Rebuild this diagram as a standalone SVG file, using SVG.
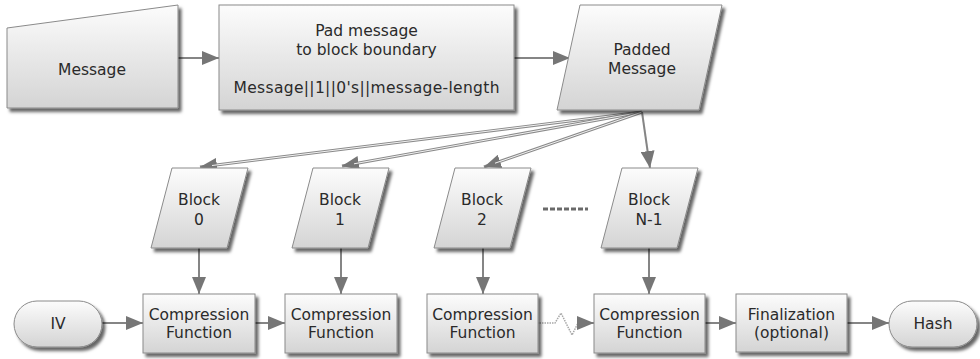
<svg xmlns="http://www.w3.org/2000/svg" width="980" height="359" viewBox="0 0 980 359">
<defs>
<linearGradient id="g" x1="0" y1="0" x2="0" y2="1">
<stop offset="0" stop-color="#fcfcfc"/>
<stop offset="1" stop-color="#d4d4d4"/>
</linearGradient>
<filter id="sh" x="-10%" y="-10%" width="130%" height="130%">
<feDropShadow dx="3" dy="3.5" stdDeviation="1.8" flood-color="#000" flood-opacity="0.6"/>
</filter>
<marker id="ah" markerUnits="userSpaceOnUse" markerWidth="18" markerHeight="14" refX="17" refY="7" orient="auto">
<path d="M0,0 L17,7 L0,14 z" fill="#767676"/>
</marker>
<style>
.n{fill:url(#g);stroke:#8a8a8a;stroke-width:1;filter:url(#sh)}
.t{font-family:"DejaVu Sans","Verdana",sans-serif;font-size:15.5px;fill:#2a2a2a;text-anchor:middle;dominant-baseline:central}
.c{fill:none;stroke:#858585;stroke-width:2}
.d1{fill:none;stroke:#8a8a8a;stroke-width:3}
.d2{fill:none;stroke:#f2f2f2;stroke-width:1}
.z{fill:none;stroke:#a8a8a8;stroke-width:1.5;stroke-dasharray:1.5 1}
.dash{fill:none;stroke:#6a6a6a;stroke-width:3;stroke-dasharray:5 2}
</style>
</defs>

<g id="connectors">
<line class="c" x1="178" y1="58" x2="219" y2="58" marker-end="url(#ah)"/>
<line class="c" x1="514" y1="58" x2="570" y2="58" marker-end="url(#ah)"/>
<line class="d1" x1="642" y1="112" x2="200" y2="167" marker-end="url(#ah)"/>
<line class="d2" x1="642" y1="112" x2="212" y2="165.5"/>
<line class="d1" x1="642" y1="112" x2="342" y2="166" marker-end="url(#ah)"/>
<line class="d2" x1="642" y1="112" x2="354" y2="163.8"/>
<line class="d1" x1="642" y1="112" x2="484" y2="167" marker-end="url(#ah)"/>
<line class="d2" x1="642" y1="112" x2="495" y2="163.2"/>
<line class="c" x1="642" y1="112" x2="650" y2="168" marker-end="url(#ah)"/>
<line class="dash" x1="543" y1="209" x2="588" y2="209"/>
<line class="c" x1="199" y1="248" x2="199" y2="294" marker-end="url(#ah)"/>
<line class="c" x1="341" y1="248" x2="341" y2="294" marker-end="url(#ah)"/>
<line class="c" x1="483" y1="248" x2="483" y2="294" marker-end="url(#ah)"/>
<line class="c" x1="649" y1="248" x2="649" y2="294" marker-end="url(#ah)"/>
<line class="c" x1="102" y1="323" x2="143" y2="323" marker-end="url(#ah)"/>
<line class="c" x1="255" y1="323" x2="285" y2="323" marker-end="url(#ah)"/>
<polyline class="z" points="537,323 555,323 561,313 572,335 578,323"/>
<line class="c" x1="578" y1="323" x2="594" y2="323" marker-end="url(#ah)"/>
<line class="c" x1="705" y1="323" x2="736" y2="323" marker-end="url(#ah)"/>
<line class="c" x1="847" y1="323" x2="889" y2="323" marker-end="url(#ah)"/>
</g>

<g id="message">
<polygon class="n" points="7,28 178,5 178,108 7,108"/>
<text class="t" x="92" y="70">Message</text>
</g>

<g id="pad">
<rect class="n" x="219" y="5" width="295" height="105"/>
<text class="t" x="366.5" y="31">Pad message</text>
<text class="t" x="366.5" y="50">to block boundary</text>
<text class="t" x="366.5" y="88" textLength="266" lengthAdjust="spacing">Message||1||0's||message-length</text>
</g>

<g id="padded">
<polygon class="n" points="580,5 722,5 699,110 557,110"/>
<text class="t" x="642" y="50">Padded</text>
<text class="t" x="642" y="69">Message</text>
</g>

<g id="block0">
<polygon class="n" points="172,168 248,168 227,248 151,248"/>
<text class="t" x="199" y="200">Block</text>
<text class="t" x="199" y="220">0</text>
</g>
<g id="block1">
<polygon class="n" points="313,168 389,168 368,248 292,248"/>
<text class="t" x="340" y="200">Block</text>
<text class="t" x="340" y="220">1</text>
</g>
<g id="block2">
<polygon class="n" points="455,168 531,168 510,248 434,248"/>
<text class="t" x="482" y="200">Block</text>
<text class="t" x="482" y="220">2</text>
</g>
<g id="blockn">
<polygon class="n" points="622,168 698,168 677,248 601,248"/>
<text class="t" x="649" y="200">Block</text>
<text class="t" x="649" y="220">N-1</text>
</g>

<g id="iv">
<rect class="n" x="14" y="301" width="88" height="46" rx="23" ry="23"/>
<text class="t" x="58" y="324">IV</text>
</g>

<g id="cf1">
<rect class="n" x="143" y="294" width="112" height="59"/>
<text class="t" x="199" y="315">Compression</text>
<text class="t" x="199" y="333">Function</text>
</g>
<g id="cf2">
<rect class="n" x="285" y="294" width="112" height="59"/>
<text class="t" x="341" y="315">Compression</text>
<text class="t" x="341" y="333">Function</text>
</g>
<g id="cf3">
<rect class="n" x="427" y="294" width="111" height="59"/>
<text class="t" x="482.5" y="315">Compression</text>
<text class="t" x="482.5" y="333">Function</text>
</g>
<g id="cf4">
<rect class="n" x="594" y="294" width="111" height="59"/>
<text class="t" x="649.5" y="315">Compression</text>
<text class="t" x="649.5" y="333">Function</text>
</g>
<g id="final">
<rect class="n" x="736" y="294" width="111" height="58"/>
<text class="t" x="791.5" y="315">Finalization</text>
<text class="t" x="791.5" y="333">(optional)</text>
</g>
<g id="hash">
<rect class="n" x="889" y="301" width="88" height="46" rx="23" ry="23"/>
<text class="t" x="933" y="324">Hash</text>
</g>
</svg>
